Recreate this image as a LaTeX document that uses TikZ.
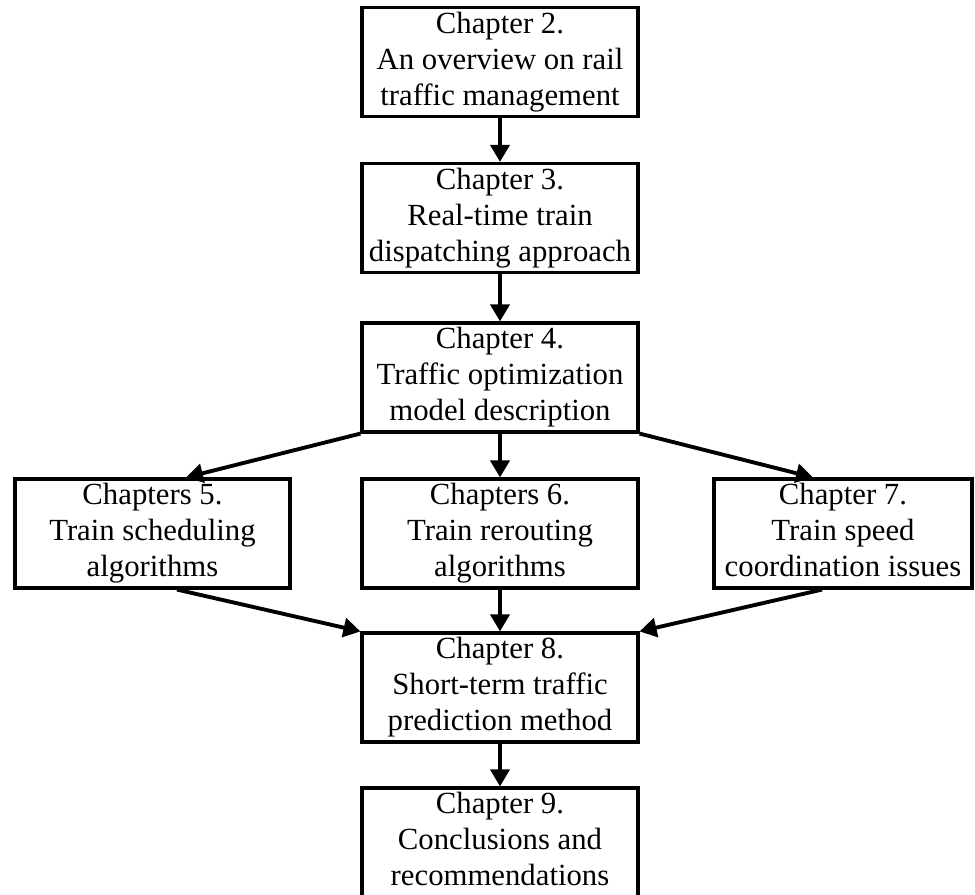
\documentclass[tikz,border=0pt]{standalone}
\usepackage{fontspec}
\setmainfont{Liberation Serif}
\usetikzlibrary{arrows.meta}

\begin{document}
\begin{tikzpicture}[x=0.02cm, y=-0.02cm,
    chap/.style={draw, line width=1.8pt, minimum width=5.52cm, minimum height=2.18cm,
      align=center, inner sep=0pt, font=\fontsize{17.5}{20.5}\selectfont},
    arr/.style={-{Triangle[length=0.34cm,width=0.38cm]}, line width=2.2pt}]
    \useasboundingbox (0,0) rectangle (975,894);
    \node [chap] (c2) at (500,62) {Chapter 2.\\An overview on rail\\traffic management};
    \node [chap] (c3) at (500,218) {Chapter 3.\\Real-time train\\dispatching approach};
    \node [chap] (c4) at (500,377.5) {Chapter 4.\\Traffic optimization\\model description};
    \node [chap, minimum width=5.5cm] (c5) at (152.5,533.5) {Chapters 5.\\Train scheduling\\algorithms};
    \node [chap] (c6) at (500,533.5) {Chapters 6.\\Train rerouting\\algorithms};
    \node [chap, minimum width=5.16cm] (c7) at (843,533.5) {Chapter 7.\\Train speed\\coordination issues\vphantom{g}};
    \node [chap] (c8) at (500,687.5) {Chapter 8.\\Short-term traffic\\prediction method};
    \node [chap] (c9) at (500,842.5) {Chapter 9.\\Conclusions and\\recommendations\vphantom{g}};
    \draw [arr] (c2) -- (c3);
    \draw [arr] (c3) -- (c4);
    \draw [arr] (c4.south west) -- ([xshift=0.67cm]c5.north);
    \draw [arr] (c4) -- (c6);
    \draw [arr] (c4.south east) -- ([xshift=-0.6cm]c7.north);
    \draw [arr] ([xshift=0.49cm]c5.south) -- (c8.north west);
    \draw [arr] (c6) -- (c8);
    \draw [arr] ([xshift=-0.42cm]c7.south) -- (c8.north east);
    \draw [arr] (c8) -- (c9);
\end{tikzpicture}
\end{document}
